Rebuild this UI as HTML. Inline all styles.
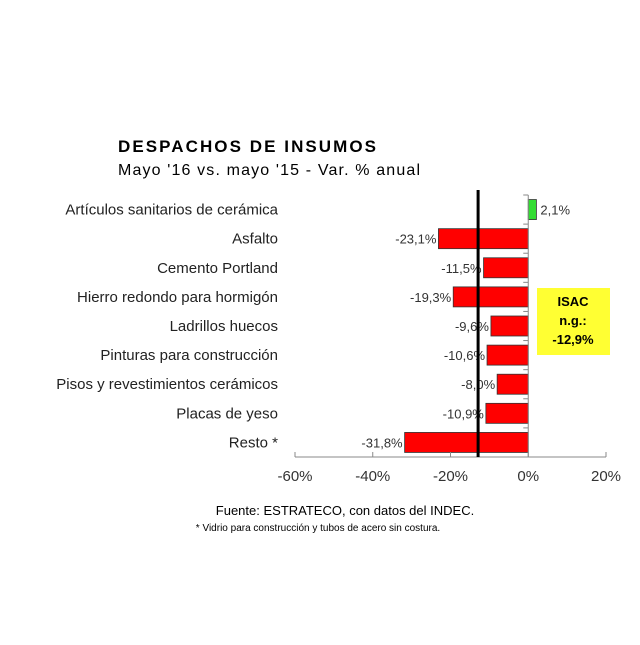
<!DOCTYPE html>
<html><head><meta charset="utf-8"><style>
body{margin:0;background:#fff;}
svg text{font-family:"Liberation Sans",Arial,sans-serif;}
</style></head><body>
<svg width="640" height="640" xmlns="http://www.w3.org/2000/svg">
<text x="118" y="152" font-size="17" font-weight="bold" fill="#000" textLength="258">DESPACHOS DE INSUMOS</text>
<text x="118" y="175" font-size="16" fill="#000" textLength="302">Mayo '16 vs. mayo '15 - Var. % anual</text>
<g id="plot"></g>
<rect x="537" y="288" width="73" height="67" fill="#ffff33"/>
<text x="573" y="306" font-size="13" font-weight="bold" text-anchor="middle">ISAC</text>
<text x="573" y="325" font-size="13" font-weight="bold" text-anchor="middle">n.g.:</text>
<text x="573" y="344" font-size="13" font-weight="bold" text-anchor="middle">-12,9%</text>
<text x="345" y="515" font-size="13" text-anchor="middle" fill="#000">Fuente: ESTRATECO, con datos del INDEC.</text>
<text x="318" y="531" font-size="10" text-anchor="middle" fill="#000">* Vidrio para construcción y tubos de acero sin costura.</text>
</svg>
<script>
const categories=["Artículos sanitarios de cerámica","Asfalto","Cemento Portland","Hierro redondo para hormigón","Ladrillos huecos","Pinturas para construcción","Pisos y revestimientos cerámicos","Placas de yeso","Resto *"];
const values=[2.1,-23.1,-11.5,-19.3,-9.6,-10.6,-8.0,-10.9,-31.8];
const ticks=[-60,-40,-20,0,20];
const isac=-12.9;
const NS="http://www.w3.org/2000/svg";
const g=document.getElementById('plot');
const x0=295,x1=606,xmin=-60,xmax=20,yTop=195,yBot=457;
const X=v=>x0+(v-xmin)/(xmax-xmin)*(x1-x0);
const band=(yBot-yTop)/categories.length;
const Y=i=>yTop+band*(i+0.5);
function el(t,a){const e=document.createElementNS(NS,t);for(const k in a)e.setAttribute(k,a[k]);g.appendChild(e);return e;}
const fmt=v=>v.toFixed(1).replace('.',',')+'%';
categories.forEach((c,i)=>{
  const v=values[i],xa=X(Math.min(0,v)),xb=X(Math.max(0,v));
  const r=el('rect',{x:xa,y:Y(i)-10,width:xb-xa,height:20,fill:v>=0?'#33dd33':'#ff0000',stroke:'#333','stroke-width':0.8});
  
  
  const l=el('text',{x:278,y:Y(i)+5,'font-size':15,'text-anchor':'end',fill:'#222'});
  l.textContent=c;
  
  
  const vl=el('text',{x:v>=0?xb+4:xa-2,y:Y(i)+5,'font-size':13,'text-anchor':v>=0?'start':'end',fill:'#333'});
  vl.textContent=fmt(v);
  
  
});
for(let i=0;i<=categories.length;i++){
  const t=el('line',{x1:X(0)-5,x2:X(0),y1:yTop+band*i,y2:yTop+band*i,stroke:'#888'});
  
  
}
const ya=el('line',{x1:X(0),x2:X(0),y1:yTop,y2:yBot,stroke:'#888'});


const xa=el('line',{x1:x0,x2:x1,y1:yBot,y2:yBot,stroke:'#888'});


ticks.forEach(t=>{
  const tk=el('line',{x1:X(t),x2:X(t),y1:yBot-5,y2:yBot,stroke:'#888'});
  
  
  const tl=el('text',{x:X(t),y:yBot+24,'font-size':15,'text-anchor':'middle',fill:'#333'});
  tl.textContent=t+'%';
  
  
});
const il=el('line',{x1:X(isac),x2:X(isac),y1:yTop-5,y2:yBot,stroke:'#000','stroke-width':3});


</script>
</body></html>
